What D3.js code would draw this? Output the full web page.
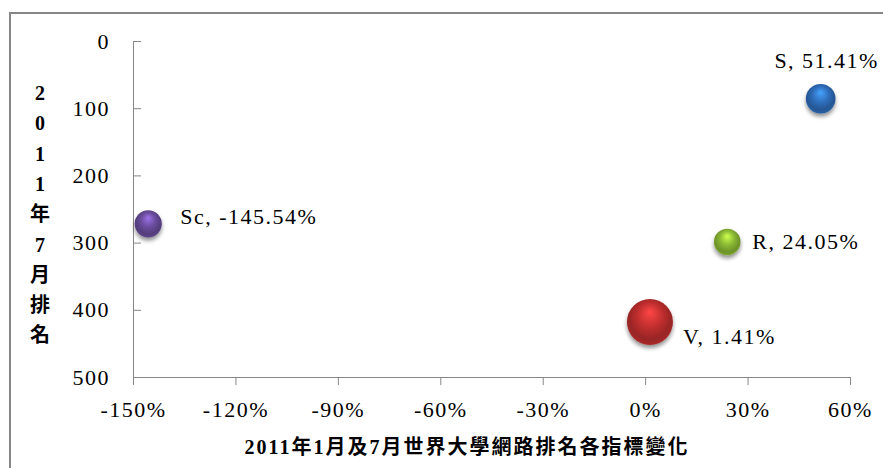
<!DOCTYPE html>
<meta charset="utf-8">
<style>
  body {
    margin: 0;
    background: #fff;
  }
  text {
    font-family: "Liberation Serif", "Times New Roman", "DejaVu Serif", serif;
    fill: #000;
  }
  .tick text {
    font-size: 22px;
    letter-spacing: 1.5px;
  }
  .lbl {
    font-size: 22px;
    letter-spacing: 1.5px;
    dominant-baseline: central;
  }
  .title {
    font-size: 20px;
    font-weight: bold;
    font-family: "Liberation Serif", "Noto Sans CJK TC", serif;
  }
</style>
<body>
  <script src="https://cdn.jsdelivr.net/npm/d3@7"></script>
  <script>
    // values
    var names = ["S", "R", "Sc", "V"];
    var changePct = [51.41, 24.05, -145.54, 1.41];   // x: change between Jan and Jul
    var rankJul = [86, 299, 272, 418];               // y: July 2011 rank
    var bubbleSize = [210, 169, 177, 506];           // relative bubble sizes
    var colors = ["#2f6fbd", "#8cbb35", "#6b4d9e", "#c32f2f"];
    var xTicks = [-150, -120, -90, -60, -30, 0, 30, 60];
    var yTicks = [0, 100, 200, 300, 400, 500];
    var yTitle = ["2", "0", "1", "1", "年", "7", "月", "排", "名"];
    var xTitle = "2011年1月及7月世界大學網路排名各指標變化";

    var width = 883,
    height = 468;

    var x = d3.scaleLinear().domain([-150, 60]).range([133, 850]);
    var y = d3.scaleLinear().domain([0, 500]).range([41, 377]);
    var r = d3.scaleSqrt().domain([0, d3.max(bubbleSize)]).range([0, 23]);

    // where each data label sits relative to its bubble
    var placement = {
      S: {pos: "above", dx: 6, dy: -23},
      R: {pos: "right", dx: 25, dy: 0},
      Sc: {pos: "right", dx: 32, dy: -7},
      V: {pos: "right", dx: 33, dy: 15}
    };

    var svg = d3.select("body").append("svg")
    .attr("width", width)
    .attr("height", height);

    var defs = svg.append("defs");

    var shadow = defs.append("filter").attr("id", "shadow")
    .attr("x", "-50%").attr("y", "-50%").attr("width", "200%").attr("height", "200%");
    shadow.append("feGaussianBlur").attr("in", "SourceAlpha").attr("stdDeviation", 2.2);
    shadow.append("feOffset").attr("dx", 0).attr("dy", 3).attr("result", "off");
    shadow.append("feComponentTransfer").append("feFuncA").attr("type", "linear").attr("slope", 0.45);
    var merge = shadow.append("feMerge");
    merge.append("feMergeNode");
    merge.append("feMergeNode").attr("in", "SourceGraphic");

    colors.forEach(function(c, i) {
      var g = defs.append("radialGradient").attr("id", "ball" + i)
      .attr("cx", "50%").attr("cy", "45%").attr("r", "58%")
      .attr("fx", "50%").attr("fy", "28%");
      g.append("stop").attr("offset", "0%").attr("stop-color", d3.color(c).brighter(1.1));
      g.append("stop").attr("offset", "45%").attr("stop-color", c);
      g.append("stop").attr("offset", "80%").attr("stop-color", d3.color(c).darker(0.7));
      g.append("stop").attr("offset", "100%").attr("stop-color", d3.color(c).darker(0.3));
    });

    // outer frame (runs off the right and bottom edges)
    svg.append("rect")
    .attr("x", 10).attr("y", 13)
    .attr("width", 920).attr("height", 500)
    .attr("fill", "none")
    .attr("stroke", "#868686")
    .attr("stroke-width", 2);

    var yAxis = svg.append("g")
    .attr("transform", "translate(" + x(-150) + ",0)")
    .call(d3.axisRight(y).tickValues(yTicks).tickSize(8).tickFormat(d3.format("d")));
    yAxis.selectAll("text")
    .attr("x", -23)
    .attr("text-anchor", "end");

    var xAxis = svg.append("g")
    .attr("transform", "translate(0," + y(500) + ")")
    .call(d3.axisBottom(x).tickValues(xTicks).tickSize(8).tickFormat(function(d) { return d + "%"; }));
    xAxis.selectAll("text").attr("y", 24);

    svg.selectAll("g").attr("font-family", null).attr("font-size", null);
    svg.selectAll(".domain, .tick line").attr("stroke", "#868686");
    svg.selectAll(".tick text").attr("fill", "#000");

    var pts = names.map(function(n, i) {
      return {name: n, pct: changePct[i], rank: rankJul[i], size: bubbleSize[i], idx: i};
    });

    // big ones underneath
    pts.sort(function(a, b) { return b.size - a.size; });

    svg.append("g").selectAll("circle")
    .data(pts)
    .join("circle")
    .attr("cx", function(d) { return x(d.pct); })
    .attr("cy", function(d) { return y(d.rank); })
    .attr("r", function(d) { return r(d.size); })
    .attr("fill", function(d) { return "url(#ball" + d.idx + ")"; })
    .attr("filter", "url(#shadow)");

    svg.append("g").selectAll("text")
    .data(pts)
    .join("text")
    .attr("class", "lbl")
    .attr("text-anchor", function(d) { return placement[d.name].pos == "above" ? "middle" : "start"; })
    .attr("x", function(d) { return x(d.pct) + placement[d.name].dx; })
    .attr("y", function(d) {
      var p = placement[d.name];
      if (p.pos == "above") return y(d.rank) - r(d.size) + p.dy;
      return y(d.rank) + p.dy;
    })
    .text(function(d) { return d.name + ", " + d.pct.toFixed(2) + "%"; });

    // y axis title, one character per line
    svg.append("g").selectAll("text")
    .data(yTitle)
    .join("text")
    .attr("class", "title")
    .attr("x", 40)
    .attr("y", function(d, i) { return 93 + i * 30.3; })
    .attr("text-anchor", "middle")
    .attr("dominant-baseline", "central")
    .text(function(d) { return d; });

    svg.append("text")
    .attr("class", "title")
    .attr("x", 467)
    .attr("y", 447)
    .attr("text-anchor", "middle")
    .attr("dominant-baseline", "central")
    .attr("letter-spacing", "2px")
    .text(xTitle);
  </script>
</body>
